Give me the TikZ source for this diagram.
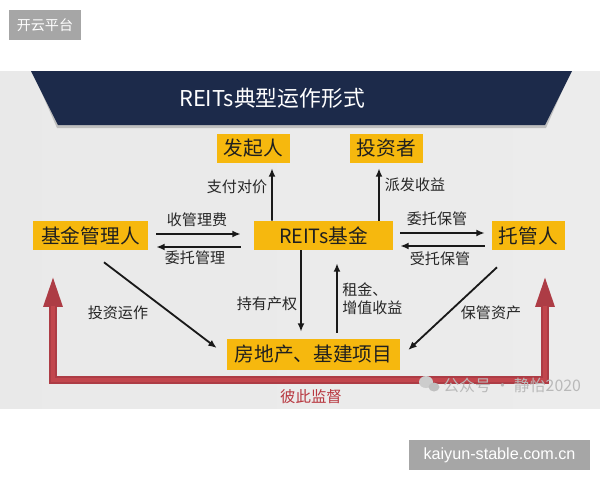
\documentclass[tikz,border=0pt]{standalone}
\usepackage{fontspec}
\setmainfont{Noto Sans CJK SC}
\newfontfamily\urlfont{Liberation Sans}
\usetikzlibrary{arrows.meta,calc}
\definecolor{rtyellow}{HTML}{F6B80E}
\definecolor{rtnavy}{HTML}{1C2A4A}
\definecolor{rtred}{HTML}{AD3C45}
\definecolor{rtredlight}{HTML}{C2464D}
\definecolor{rtredtext}{HTML}{B83840}
\definecolor{rtmark}{HTML}{A6A6A6}
\tikzset{
 rt box/.style={fill=rtyellow,inner sep=0pt,minimum height=.725cm,
                text=black!88,font=\fontsize{14}{16}\selectfont},
 rt flow/.style={line width=1.3pt,black!90,-{Latex[length=6pt,width=5pt]}},
 rt label/.style={text=black!85,inner sep=0pt,font=\fontsize{10.7}{12.8}\selectfont},
 rt supervise/.style={line width=.2cm,rtred,line join=miter,
                      {Triangle[length=.82cm,width=.42cm]}-{Triangle[length=.82cm,width=.42cm]}},
 rt tag/.style={fill=rtmark,text=white,inner sep=0pt}
}

\begin{document}
\begin{tikzpicture}[x=.025cm,y=-.025cm]
 \fill[white] (0,0) rectangle (600,480);
 \useasboundingbox (0,0) rectangle (600,480);
 \node[rt tag,minimum width=1.8cm,minimum height=.75cm,font=\fontsize{10}{12}\selectfont]
   (tagtop) at (45,25) {开云平台};
 \shade[left color=gray!17,middle color=gray!6,right color=gray!15] (0,71) rectangle (600,408);
 \fill[black!25] (33,73)--(570,73)--(546,128)--(57,128)--cycle;
 \fill[rtnavy] (31,71)--(572,71)--(545,125)--(58,125)--cycle;
 \node[text=white,font=\fontsize{15.5}{18}\selectfont] (title) at (272,98) {REITs典型运作形式};

 \node[rt box,minimum width=1.825cm] (sponsor) at (253.5,148.5) {发起人};
 \node[rt box,minimum width=1.825cm] (investor) at (386.5,148.5) {投资者};
 \node[rt box,minimum width=2.875cm] (manager) at (90.5,235.5) {基金管理人};
 \node[rt box,minimum width=3.475cm] (reits) at (323.5,235.5) {REITs基金};
 \node[rt box,minimum width=1.825cm] (custodian) at (528.5,235.5) {托管人};
 \node[rt box,minimum width=4.325cm,minimum height=.775cm] (project) at (313.5,354.5) {房地产、基建项目};

 \draw[rt flow] ($(reits.north)+(-51.5,0)$) -- ($(sponsor.south)+(18.5,5)$);
 \draw[rt flow] ($(reits.north)+(55.5,0)$) -- ($(investor.south)+(-7.5,5)$);
 \draw[rt flow] ($(manager.east)+(8,-1.5)$) -- ($(reits.west)+(-13,-1.5)$);
 \draw[rt flow] ($(reits.west)+(-13,11.5)$) -- ($(manager.east)+(8,11.5)$);
 \draw[rt flow] ($(reits.east)+(7,-2.5)$) -- ($(custodian.west)+(-7,-2.5)$);
 \draw[rt flow] ($(custodian.west)+(-7,10.5)$) -- ($(reits.east)+(7,10.5)$);
 \draw[rt flow] ($(reits.south)+(-22.5,0)$) -- ($(project.north)+(-12.5,-7)$);
 \draw[rt flow] ($(project.north)+(23.5,-6)$) -- ($(reits.south)+(13.5,13)$);
 \draw[rt flow] ($(manager.south)+(13.5,12)$) -- ($(project.west)+(-10,-6.5)$);
 \draw[rt flow] ($(custodian.south)+(-31.5,17)$) -- ($(project.east)+(8,-4.5)$);

 \node[rt label] (pay) at (237,187) {支付对价};
 \node[rt label] (dividend) at (415,185) {派发收益};
 \node[rt label] (fee) at (197,220) {收管理费};
 \node[rt label] (entrustmgr) at (195,258) {委托管理};
 \node[rt label] (entrustkeep) at (437,219) {委托保管};
 \node[rt label] (acceptkeep) at (440,259) {受托保管};
 \node[rt label] (invest) at (118,313) {投资运作};
 \node[rt label] (hold) at (267,304) {持有产权};
 \node[rt label,align=left,anchor=west] (rent) at (342,299) {租金、\\增值收益};
 \node[rt label] (keep) at (491,313) {保管资产};

 \coordinate (supL) at (53,274);
 \coordinate (supR) at (545,274);
 \draw[rt supervise] (supL) -- (53,380) -- (545,380) -- (supR);
 \draw[line width=.11cm,rtredlight,line join=miter] (53,306) -- (53,380) -- (545,380) -- (545,306);
 \node[text=rtredtext,inner sep=0pt,font=\fontsize{11}{13}\selectfont] (mutual) at (311,397) {彼此监督};

 \fill[gray!40] (426,382) ellipse [x radius=7,y radius=6];
 \fill[gray!50] (434,387) ellipse [x radius=5.5,y radius=4.5];
 \node[text=gray!55,inner sep=0pt,anchor=west,font=\fontsize{11.3}{13}\selectfont]
   (mark) at (443,385) {公众号 · 静怡2020};

 \node[rt tag,minimum width=4.525cm,minimum height=.75cm,font=\urlfont\fontsize{11.5}{13}\selectfont]
   (tagbottom) at (499.5,455) {kaiyun-stable.com.cn};
\end{tikzpicture}
\end{document}
